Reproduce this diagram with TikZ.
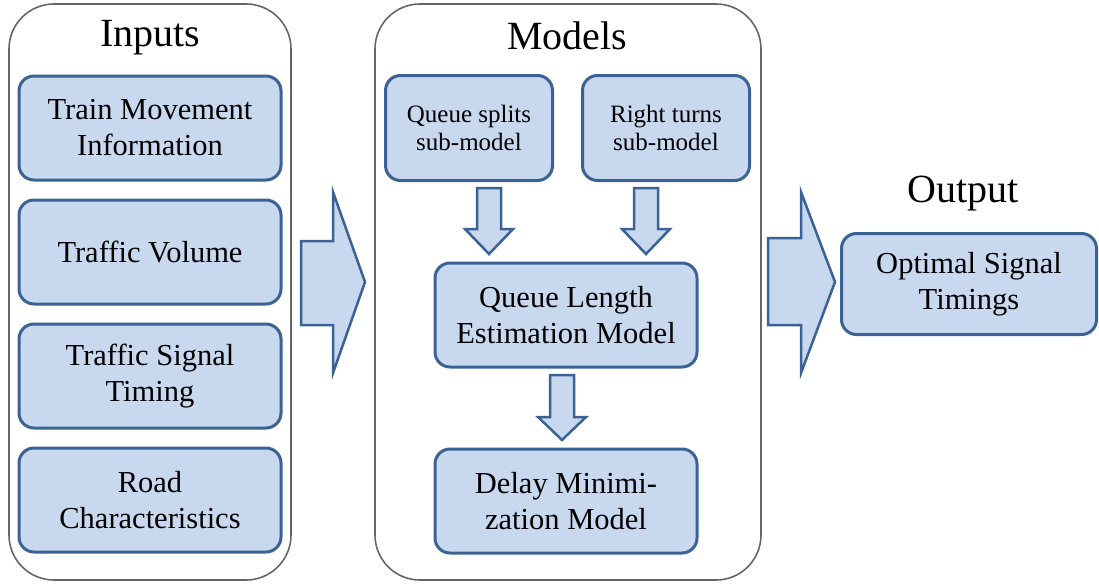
\documentclass[tikz,border=0pt]{standalone}
\usepackage{fontspec}
\setmainfont{Liberation Serif}
\usepackage{tikz}

\definecolor{boxfill}{RGB}{200,216,238}
\definecolor{boxline}{RGB}{58,98,148}

\begin{document}
\begin{tikzpicture}[x=1pt, y=-1pt,
  group/.style={draw=black!60, line width=1.6pt, rounded corners=45pt},
  title/.style={font=\fontsize{40}{44}\selectfont},
  item/.style={draw=boxline, fill=boxfill, line width=3pt, rounded corners=15pt,
    align=center, inner sep=0pt, font=\fontsize{30.5}{36}\selectfont},
  subitem/.style={item, font=\fontsize{25}{28}\selectfont},
  blockarrow/.style={draw=boxline, fill=boxfill, line width=2.5pt}]
\useasboundingbox (0,0) rectangle (1099,586);

%the groups
\draw [group] (9,4) rectangle (291,580);
\draw [group] (375,4) rectangle (761,580);
\node [title] (inputs) at (150,38) {Inputs};
\node [title] (models) at (567,36) {Models};
\node [title] (output) at (963,194) {Output};

%the inputs
\node [item, minimum width=262pt, minimum height=104pt] (train) at (150,128) {Train Movement\\Information};
\node [item, minimum width=262pt, minimum height=104pt] (volume) at (150,252) {Traffic Volume};
\node [item, minimum width=262pt, minimum height=104pt] (timing) at (150,376) {Traffic Signal\\Timing};
\node [item, minimum width=262pt, minimum height=104pt] (road) at (150,500) {Road\\Characteristics};

%the big arrows
\draw [blockarrow] (301,241) -- (333,241) -- (333,192) -- (365,282) -- (333,373) -- (333,325) -- (301,325) -- cycle;
\draw [blockarrow] (768,238) -- (801,238) -- (801,192) -- (835,282) -- (801,373) -- (801,325) -- (768,325) -- cycle;

%the small arrows
\draw [blockarrow] (477,188) -- (501,188) -- (501,229) -- (513,229) -- (489,254) -- (465,229) -- (477,229) -- cycle;
\draw [blockarrow] (634,188) -- (658,188) -- (658,229) -- (670,229) -- (646,254) -- (622,229) -- (634,229) -- cycle;
\draw [blockarrow] (550,375) -- (574,375) -- (574,417) -- (586,417) -- (562,440) -- (538,417) -- (550,417) -- cycle;

%the models
\node [subitem, minimum width=167pt, minimum height=105pt] (splits) at (469,128) {Queue splits\\sub-model};
\node [subitem, minimum width=167pt, minimum height=105pt] (turns) at (666,128) {Right turns\\sub-model};
\node [item, minimum width=262pt, minimum height=104pt] (queue) at (566,315) {Queue Length\\Estimation Model};
\node [item, minimum width=262pt, minimum height=104pt] (delay) at (566,501) {Delay Minimi-\\zation Model};

%the output
\node [item, minimum width=255pt, minimum height=101pt] (optimal) at (969,284) {Optimal Signal\\Timings};
\end{tikzpicture}
\end{document}
